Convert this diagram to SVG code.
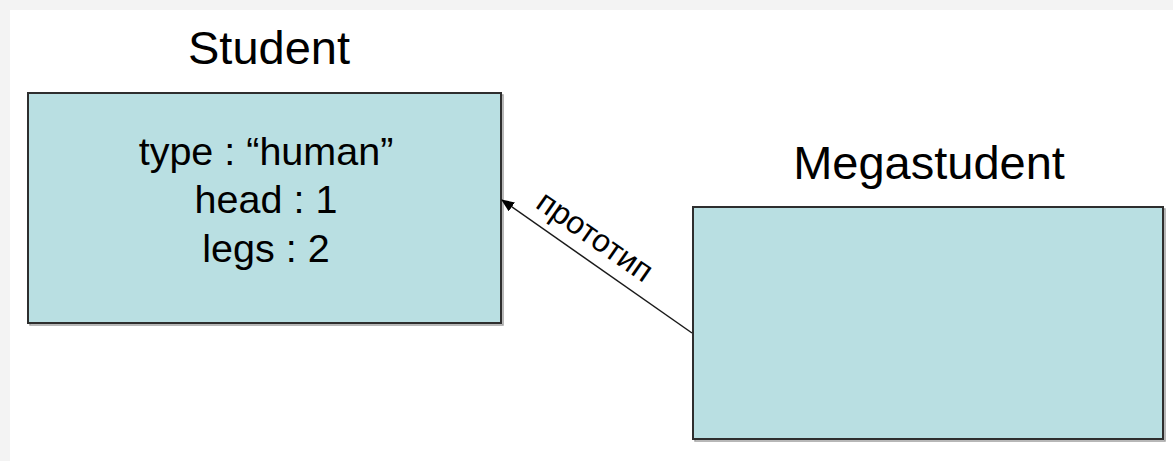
<svg xmlns="http://www.w3.org/2000/svg" width="1173" height="461" viewBox="0 0 1173 461">
  <defs>
    <style>
      .box { fill: #b9dfe2; stroke: #2e2e2e; stroke-width: 2; }
      .shadow { fill: none; stroke: #a0a0a0; stroke-width: 1.5; }
      .title { font-family: "Liberation Sans", Arial, sans-serif; font-size: 47px; fill: #000; text-anchor: middle; }
      .body { font-family: "Liberation Sans", Arial, sans-serif; font-size: 39.5px; fill: #000; text-anchor: middle; }
      .label { font-family: "Liberation Sans", Arial, sans-serif; font-size: 32px; fill: #000; text-anchor: middle; }
      .conn { stroke: #1a1a1a; stroke-width: 1.5; fill: none; }
    </style>
    <marker id="arrow" markerWidth="13" markerHeight="11" refX="12" refY="5.5" orient="auto" markerUnits="userSpaceOnUse">
      <path d="M0,0 L13,5.5 L0,11 Z" fill="#000"/>
    </marker>
  </defs>

  <rect x="0" y="0" width="1173" height="461" fill="#ffffff"/>
  <rect x="0" y="0" width="1173" height="10" fill="#f3f3f3"/>
  <rect x="0" y="0" width="10" height="461" fill="#f3f3f3"/>

  <g id="student">
    <rect class="shadow" x="30" y="95" width="473" height="230"/>
    <rect class="box" x="28" y="93" width="473" height="230"/>
    <text class="title" x="269" y="64">Student</text>
    <text class="body" x="266" y="165">type : “human”</text>
    <text class="body" x="266" y="213">head : 1</text>
    <text class="body" x="266" y="262">legs : 2</text>
  </g>

  <g id="megastudent">
    <rect class="shadow" x="695" y="209" width="470" height="232"/>
    <rect class="box" x="693" y="207" width="470" height="232"/>
    <text class="title" x="929" y="179">Megastudent</text>
  </g>

  <g id="connectors">
    <line class="conn" x1="692" y1="333" x2="502" y2="200" marker-end="url(#arrow)"/>
    <text class="label" transform="translate(589,245) rotate(35)" x="0" y="0">прототип</text>
  </g>
</svg>
